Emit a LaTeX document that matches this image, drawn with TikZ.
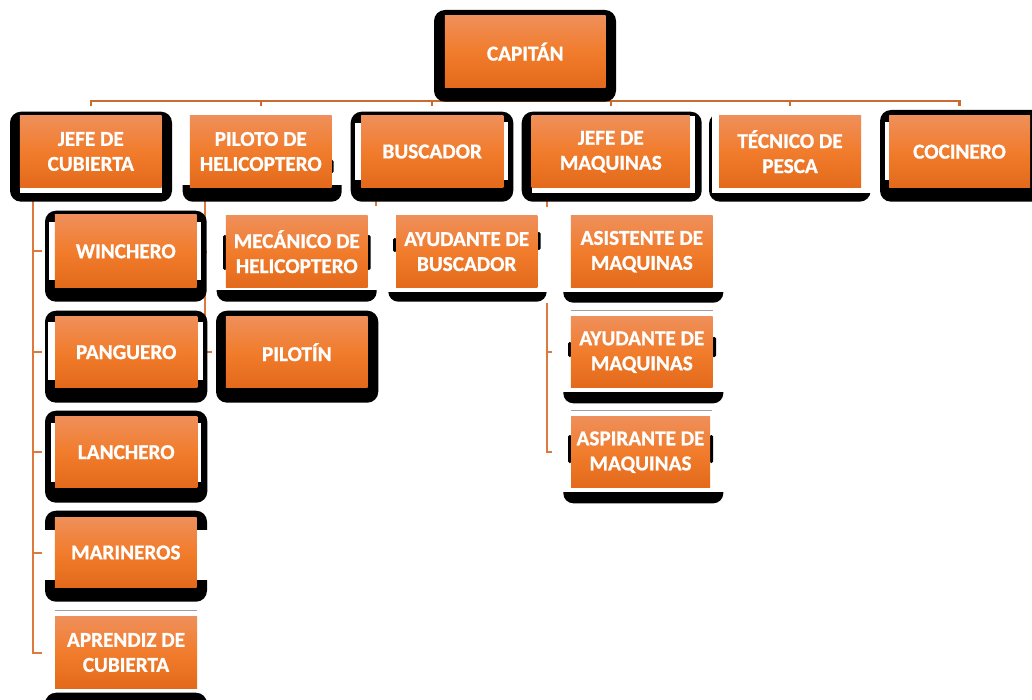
\documentclass[tikz,border=0pt]{standalone}
\usepackage{fontspec}
\setmainfont{Carlito}
\newfontfamily\boxfont{Carlito}[BoldFeatures={FakeBold=1}]
\pgfdeclarelayer{conn}
\pgfdeclarelayer{deco}
\pgfsetlayers{conn,deco,main}
\definecolor{otop}{HTML}{EF8F5A}
\definecolor{omid}{HTML}{F17C2C}
\definecolor{obot}{HTML}{E3691B}
\definecolor{lineC}{HTML}{C96C32}
\definecolor{lineD}{HTML}{DC7A3E}
\definecolor{grayL}{HTML}{A0A0A0}
\newcommand\blkbox[4]{\fill[black,rounded corners=11pt] (#1,#2) rectangle (#3,#4);}
\newcommand\blkbar[4]{\begin{scope}\clip (#1,#2) rectangle (#3,#4);\fill[black,rounded corners=10pt] (#1,#2-20) rectangle (#3,#4);\end{scope}}
\newcommand\wht[4]{\fill[white] (#1,#2) rectangle (#3,#4);}
\newcommand\bump[4]{\fill[black,rounded corners=1.5pt] (#1,#2) rectangle (#3,#4);}
\tikzset{
  obox/.style={rectangle, inner sep=0pt, minimum width=141.7pt, minimum height=72pt,
    top color=otop, bottom color=obot, middle color=omid, text=white,
    font=\boxfont\bfseries\fontsize{21.2}{25}\selectfont, align=center},
  conn/.style={draw=lineC, line width=2.2pt},
  conn2/.style={draw=lineD, line width=2pt},
  gline/.style={draw=grayL, line width=1pt}
}
\begin{document}
\begin{tikzpicture}[x=1pt,y=-1pt]
\useasboundingbox (0,0) rectangle (1032,700);
% nodes
\node[obox, minimum width=160.7pt] (capitan) at (525.3,51.7) {CAPITÁN};
\node[obox, minimum height=71.6pt] (jc) at (90.8,151.5) {JEFE DE\\CUBIERTA};
\node[obox, minimum height=71.6pt] (piloto) at (260.8,151.5) {PILOTO DE\\HELICOPTERO};
\node[obox, minimum width=142.3pt, minimum height=71.6pt] (buscador) at (432.2,151.5) {BUSCADOR};
\node[obox, minimum width=158.3pt] (jmaq) at (610.8,151.7) {JEFE DE\\MAQUINAS};
\node[obox, minimum width=142pt] (tecnico) at (790,151.7) {TÉCNICO DE\\PESCA};
\node[obox, minimum width=141pt] (cocinero) at (959.5,151.7) {COCINERO};
\node[obox, minimum height=72.7pt] (winchero) at (125.8,251.3) {WINCHERO};
\node[obox] (mecanico) at (296.8,251.7) {MECÁNICO DE\\HELICOPTERO};
\node[obox, minimum width=141.3pt] (ayubus) at (466.7,251.7) {AYUDANTE DE\\BUSCADOR};
\node[obox] (asistente) at (641.8,251.7) {ASISTENTE DE\\MAQUINAS};
\node[obox, minimum height=71pt] (ayumaq) at (641.8,352.2) {AYUDANTE DE\\MAQUINAS};
\node[obox, minimum width=139pt, minimum height=71pt] (aspirante) at (640.5,452.2) {ASPIRANTE DE\\MAQUINAS};
\node[obox, minimum width=142.3pt, minimum height=71pt] (panguero) at (126.2,352.2) {PANGUERO};
\node[obox, minimum height=71pt] (pilotin) at (296.8,352.2) {PILOTÍN};
\node[obox, minimum width=142.3pt, minimum height=71pt] (lanchero) at (126.2,452.2) {LANCHERO};
\node[obox, minimum height=70.4pt] (marineros) at (125.8,552.5) {MARINEROS};
\node[obox, minimum width=142pt, minimum height=71.6pt] (aprendiz) at (126,652.5) {APRENDIZ DE\\CUBIERTA};
% connectors
\begin{pgfonlayer}{conn}
\coordinate (busy) at (0,101);
\foreach \c in {jc,piloto,buscador,jmaq,tecnico,cocinero}
  \draw[conn] (capitan.south) -- (capitan.south |- busy) -| ([yshift=9pt]\c.north);
\foreach \c in {winchero,panguero,lanchero,marineros,aprendiz}
  \draw[conn2] ([xshift=13.5pt]jc.south west) |- ([xshift=-13pt]\c.west);
\foreach \c in {mecanico,pilotin}
  \draw[conn2] ([xshift=15pt]piloto.south west) |- ([xshift=-14pt]\c.west);
\draw[conn2] ([xshift=14.7pt]buscador.south west) |- ([xshift=-13pt]ayubus.west);
\foreach \c in {asistente,ayumaq,aspirante}
  \draw[conn2] ([xshift=16pt]jmaq.south west) |- ([xshift=-19pt]\c.west);
\end{pgfonlayer}
% decorations (shadow frames)
\begin{pgfonlayer}{deco}
\wht{207}{206}{380}{306}
\wht{378}{206}{545}{306}
\wht{545}{207}{725}{303}
% capitan
\blkbox{434}{10}{616}{101.7}
% jefe de cubierta
\blkbox{10}{111.7}{172}{201.7}
\wht{20}{187.3}{161.7}{192.7}
% piloto
\blkbar{182.7}{186}{341.7}{201.7}
\bump{331}{160}{333.5}{173}
% buscador
\blkbox{350.7}{111.7}{513.3}{201.7}
\wht{355}{123}{361}{180}
\wht{503.3}{121.7}{508.3}{180}
% jefe de maquinas
\blkbox{521.7}{111.7}{701.7}{201.7}
\wht{531.7}{187.7}{695}{193.3}
\wht{690}{115.7}{695}{193.3}
% tecnico
\blkbox{709}{113}{870.7}{201.7}
\wht{712}{111}{875}{193.3}
% cocinero
\blkbox{880}{110}{1050}{201.7}
\wht{885}{121.7}{889}{180}
% winchero
\blkbox{45}{210.7}{206.7}{301.7}
\wht{49}{221.7}{55}{280}
\wht{196.7}{221.7}{201}{280}
% mecanico
\blkbar{216.7}{291}{376.7}{301.7}
\bump{223}{235}{226.5}{270}
\bump{367}{235}{370.5}{270}
% ayudante de buscador
\blkbar{388.3}{292}{546.7}{301.7}
\bump{393}{238}{396.5}{252}
\bump{537}{232}{540.5}{250}
% asistente
\blkbar{563.3}{292}{723.3}{302.7}
% ayudante de maquinas
\blkbar{563.3}{392}{723.3}{403.3}
\bump{568}{342}{571.5}{357}
\bump{712}{337}{716}{357}
% aspirante
\blkbar{563.3}{492}{723.3}{503.3}
\bump{568}{435}{571.5}{463}
\bump{709.5}{435}{713}{463}
% panguero
\blkbox{45}{310.7}{207.3}{402.7}
\wht{48.3}{321.7}{55}{380}
\wht{197.3}{321.7}{203}{380}
% pilotin
\blkbox{216}{310.7}{378.3}{402.7}
% lanchero
\blkbox{45}{410.7}{207.3}{502.7}
\wht{51}{423}{55}{481.7}
\wht{197.3}{423}{201}{481.7}
% marineros
\blkbox{45}{510.7}{207}{601.7}
\wht{44}{530}{208}{580}
% aprendiz
\blkbox{45}{692.7}{207}{725}
% thin gray rules
\draw[gline] (571,310) -- (713,310);
\draw[gline] (571,410) -- (712,410);
\draw[gline] (55,610) -- (197,610);
\end{pgfonlayer}
\end{tikzpicture}
\end{document}
